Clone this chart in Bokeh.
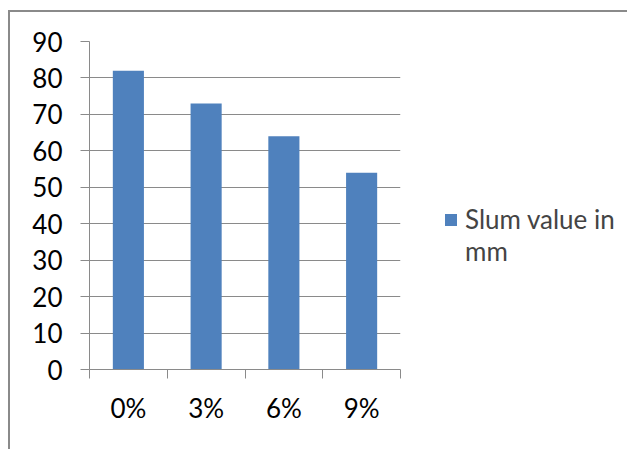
from bokeh.plotting import figure
from bokeh.models import FixedTicker, Legend, LegendItem, ColumnDataSource
from bokeh.embed import file_html
from bokeh.resources import INLINE

categories = ["0%", "3%", "6%", "9%"]
values = [82, 73, 64, 54]
y_ticks = [0, 10, 20, 30, 40, 50, 60, 70, 80, 90]
legend_lines = ["Slum value in", "mm"]

FONT = "Lato"
GRAY = "#8a8a8a"
BAR = "#4f81bd"
FS = "26px"

centers = [i + 0.5 for i in range(len(categories))]
bounds = list(range(len(categories) + 1))

p = figure(frame_width=311, frame_height=328, x_range=(0, len(categories)), y_range=(0, 90),
           output_backend="svg", toolbar_location=None,
           min_border_left=79, min_border_right=221,
           min_border_top=29, min_border_bottom=80)
p.styles = {"margin-left": "8px", "margin-top": "10px",
            "border-left": "2px solid " + GRAY, "border-top": "2px solid " + GRAY}
p.outline_line_color = None
p.background_fill_color = "white"
p.border_fill_color = "white"

src = ColumnDataSource(dict(x=centers, top=values))
bars = p.vbar(x="x", top="top", width=0.4, source=src, fill_color=BAR, line_color=None)
dummy = p.vbar(x=[], top=[], width=0.4, fill_alpha=0, line_alpha=0)

# x axis
p.xaxis.ticker = FixedTicker(ticks=centers, minor_ticks=bounds)
p.xaxis.major_label_overrides = {c: lab for c, lab in zip(centers, categories)}
p.xaxis.major_tick_out = 0
p.xaxis.major_tick_in = 0
p.xaxis.minor_tick_out = 9
p.xaxis.minor_tick_in = 0
p.xaxis.minor_tick_line_color = GRAY
p.xaxis.axis_line_color = GRAY
p.xaxis.major_label_standoff = 13
p.xaxis.major_label_text_font = FONT
p.xaxis.major_label_text_font_size = FS
p.xaxis.major_label_text_color = "black"

# y axis
p.yaxis.ticker = FixedTicker(ticks=y_ticks)
p.yaxis.major_tick_out = 9
p.yaxis.major_tick_in = 0
p.yaxis.minor_tick_line_color = None
p.yaxis.major_tick_line_color = GRAY
p.yaxis.axis_line_color = GRAY
p.yaxis.major_label_standoff = 18
p.yaxis.major_label_text_font = FONT
p.yaxis.major_label_text_font_size = FS
p.yaxis.major_label_text_color = "black"

p.xgrid.grid_line_color = None
p.ygrid.grid_line_color = GRAY
p.ygrid.ticker = FixedTicker(ticks=y_ticks)

legend = Legend(items=[LegendItem(label=legend_lines[0], renderers=[bars]),
                       LegendItem(label=legend_lines[1], renderers=[dummy])],
                location=(43, 102))
legend.glyph_width = 15
legend.glyph_height = 15
legend.label_standoff = 7
legend.label_text_font = FONT
legend.label_text_font_size = FS
legend.label_height = 31
legend.spacing = 0
legend.padding = 0
legend.margin = 0
legend.border_line_color = None
legend.background_fill_alpha = 0
p.add_layout(legend, "right")

open("out.html", "w").write(file_html(p, INLINE))
